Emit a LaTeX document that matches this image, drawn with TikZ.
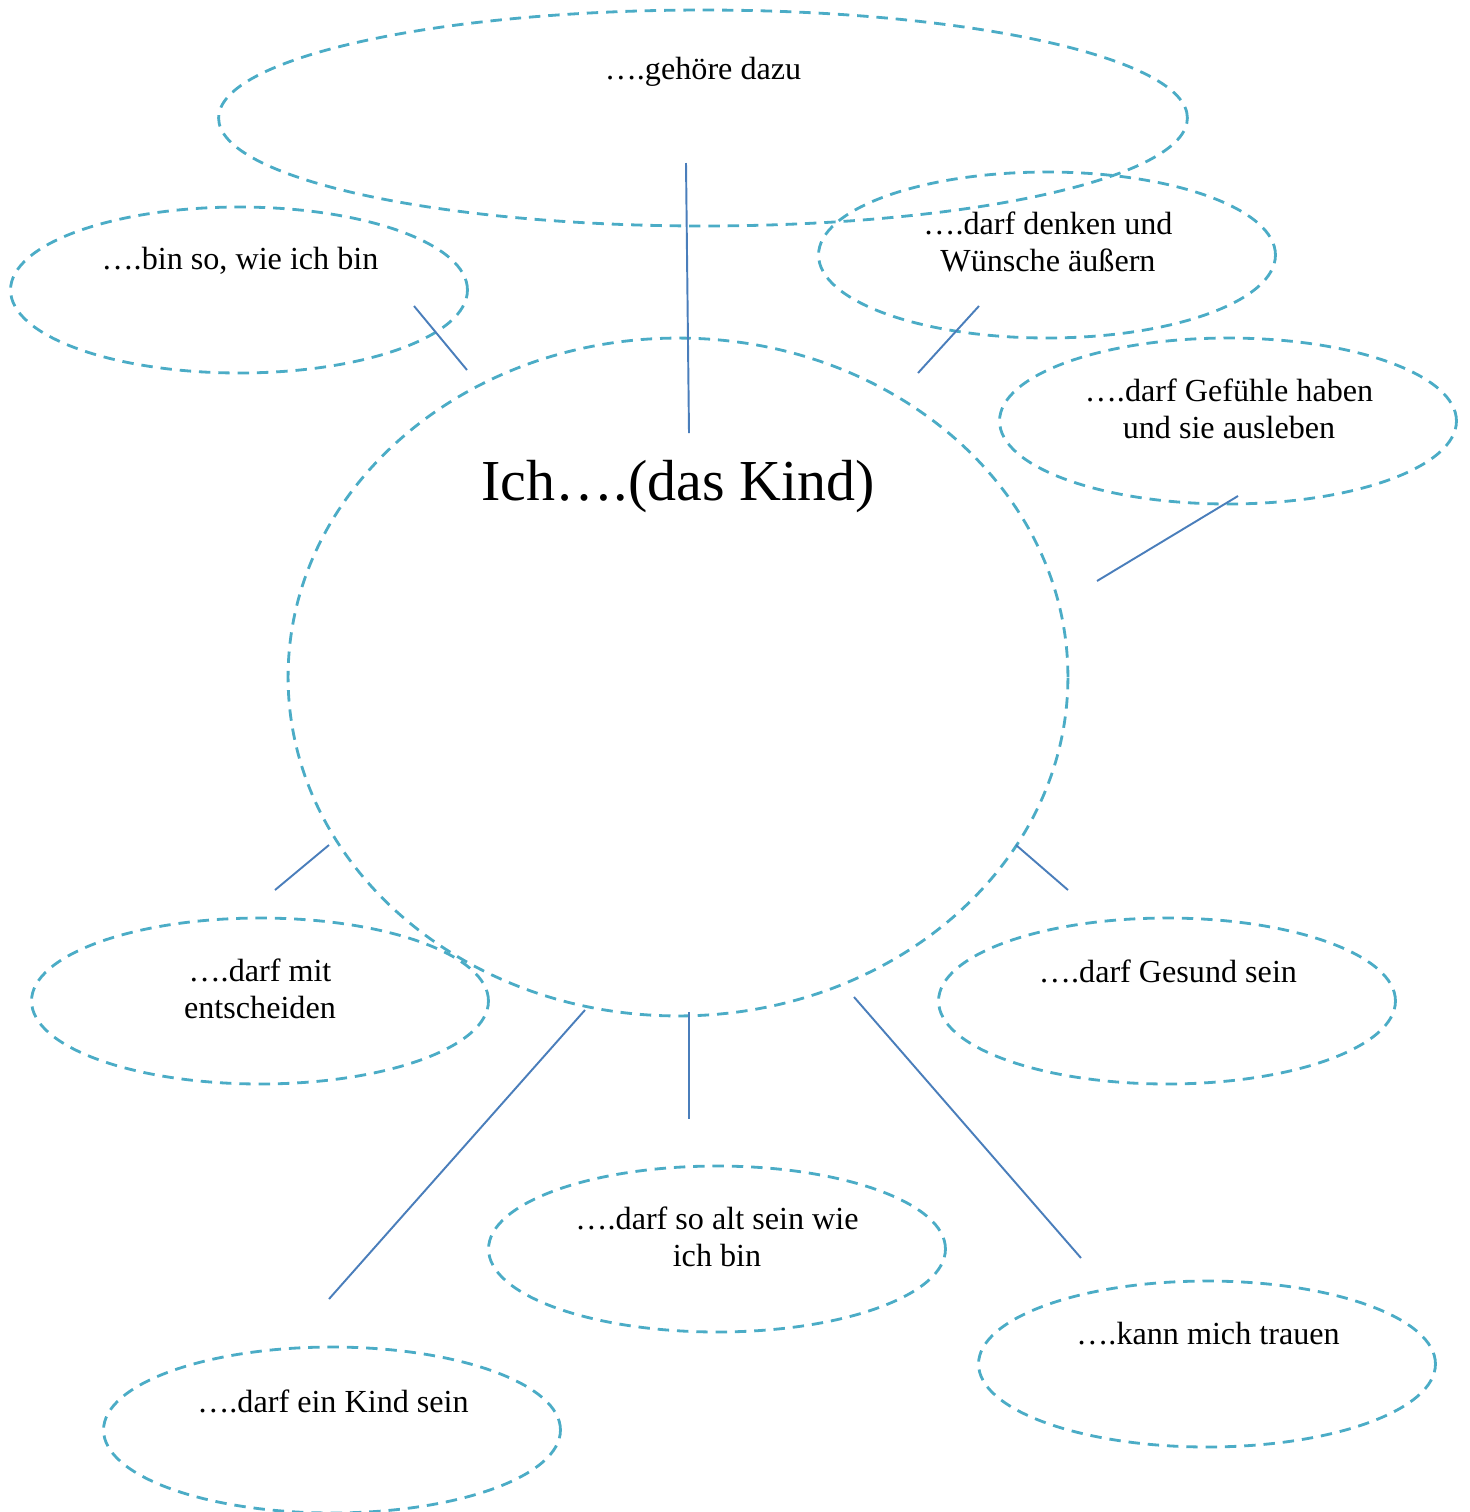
\documentclass[tikz,border=0pt]{standalone}
\usepackage{fontspec}
\setmainfont{Liberation Serif}
\usetikzlibrary{shapes.geometric}
\definecolor{wish}{HTML}{4BACC6}
\definecolor{link}{HTML}{4A7EBB}
\begin{document}
\begin{tikzpicture}[x=0.02cm,y=-0.02cm]
        \tikzstyle{bubble} = [ellipse, draw=wish, line width=1.6pt, dash pattern=on 6.5pt off 4.5pt, inner sep=0pt, minimum width=9.14cm, minimum height=3.32cm]
        \tikzstyle{txt} = [text=black, align=center, font=\fontsize{18.3}{21}\selectfont]
        \tikzstyle{line} = [draw=link, line width=1.1pt]
        \useasboundingbox (0,0) rectangle (1470,1512);
        % bubbles
        \node[bubble, minimum width=19.38cm, minimum height=4.32cm] (dazu) at (703,118) {};
        \node[bubble] (binso) at (239,290) {};
        \node[bubble] (denken) at (1047,255) {};
        \node[bubble] (gefuehle) at (1228,421) {};
        \node[bubble, minimum width=15.6cm, minimum height=13.56cm] (kind) at (678,677) {};
        \node[bubble] (entscheiden) at (260,1001) {};
        \node[bubble] (gesund) at (1167,1001) {};
        \node[bubble] (alt) at (717,1249) {};
        \node[bubble] (trauen) at (1207,1364) {};
        \node[bubble] (kindsein) at (332,1430) {};
        % texts
        \node[txt] (dazutxt) at (703,72) {….gehöre dazu};
        \node[txt] (binsotxt) at (240,261) {….bin so, wie ich bin};
        \node[txt] (denkentxt) at (1048,242) {….darf denken und\\Wünsche äußern};
        \node[txt] (gefuehletxt) at (1229,409) {….darf Gefühle haben\\und sie ausleben};
        \node[txt, font=\fontsize{33}{38}\selectfont] (kindtxt) at (678,487) {Ich….(das Kind)};
        \node[txt] (entscheidentxt) at (260,989) {….darf mit\\entscheiden};
        \node[txt] (gesundtxt) at (1168,971) {….darf Gesund sein};
        \node[txt] (alttxt) at (717,1237) {….darf so alt sein wie\\ich bin};
        \node[txt] (trauentxt) at (1208,1334) {….kann mich trauen};
        \node[txt] (kindseintxt) at (333,1401) {….darf ein Kind sein};
        % line ends
        \coordinate (a1) at (686,163);   \coordinate (a2) at (689,433);
        \coordinate (b1) at (414,306);   \coordinate (b2) at (467,370);
        \coordinate (c1) at (979,306);   \coordinate (c2) at (918,373);
        \coordinate (d1) at (1238,496);  \coordinate (d2) at (1097,581);
        \coordinate (e1) at (329,845);   \coordinate (e2) at (275,890);
        \coordinate (f1) at (1016,845);  \coordinate (f2) at (1068,890);
        \coordinate (g1) at (585,1010);  \coordinate (g2) at (329,1299);
        \coordinate (h1) at (689,1012);  \coordinate (h2) at (689,1119);
        \coordinate (i1) at (854,997);   \coordinate (i2) at (1081,1258);
        \draw[line] (a1) to (a2);
        \draw[line] (b1) to (b2);
        \draw[line] (c1) to (c2);
        \draw[line] (d1) to (d2);
        \draw[line] (e1) to (e2);
        \draw[line] (f1) to (f2);
        \draw[line] (g1) to (g2);
        \draw[line] (h1) to (h2);
        \draw[line] (i1) to (i2);
    \end{tikzpicture}
\end{document}
